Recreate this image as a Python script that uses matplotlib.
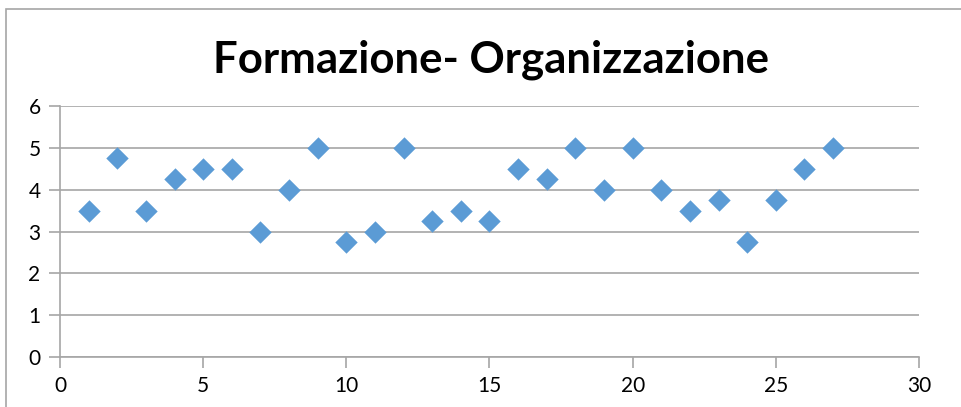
import matplotlib
matplotlib.use("Agg")
import matplotlib.pyplot as plt
from matplotlib.patches import Rectangle

# data
x_vals = list(range(1, 28))
y_vals = [3.5, 4.75, 3.5, 4.25, 4.5, 4.5, 3.0, 4.0, 5.0, 2.75, 3.0, 5.0, 3.25, 3.5,
          3.25, 4.5, 4.25, 5.0, 4.0, 5.0, 4.0, 3.5, 3.75, 2.75, 3.75, 4.5, 5.0]
title = "Formazione- Organizzazione"

plt.rcParams['font.family'] = ['Lato', 'DejaVu Sans']

fig = plt.figure(figsize=(9.62, 4.07), dpi=100)
# outer chart border
fig.patches.append(Rectangle((6 / 962, -0.1), 1.2, 1 - 9 / 407 + 0.1, transform=fig.transFigure,
                             fill=False, edgecolor='#a6a6a6', linewidth=1.2))

ax = fig.add_axes([60 / 962, 1 - 357 / 407, (919 - 60) / 962, (357 - 106) / 407])
ax.scatter(x_vals, y_vals, marker='D', s=130, color='#5b9bd5', zorder=3, linewidths=0)

ax.set_xlim(0, 30)
ax.set_ylim(0, 6)
ax.set_xticks(range(0, 31, 5))
ax.set_yticks(range(0, 7))
ax.grid(axis='y', color='#a6a6a6', linewidth=1.2)
for s in ['top', 'right']:
    ax.spines[s].set_visible(False)
for s in ['left', 'bottom']:
    ax.spines[s].set_color('#a6a6a6')
    ax.spines[s].set_linewidth(1.2)
ax.tick_params(length=8, width=1.2, color='#a6a6a6', labelsize=15, pad=6)

fig.text(491 / 962, 1 - 60 / 407, title, ha='center', va='center',
         fontsize=31.5, fontweight='bold')

fig.savefig("out.png", dpi=100)
